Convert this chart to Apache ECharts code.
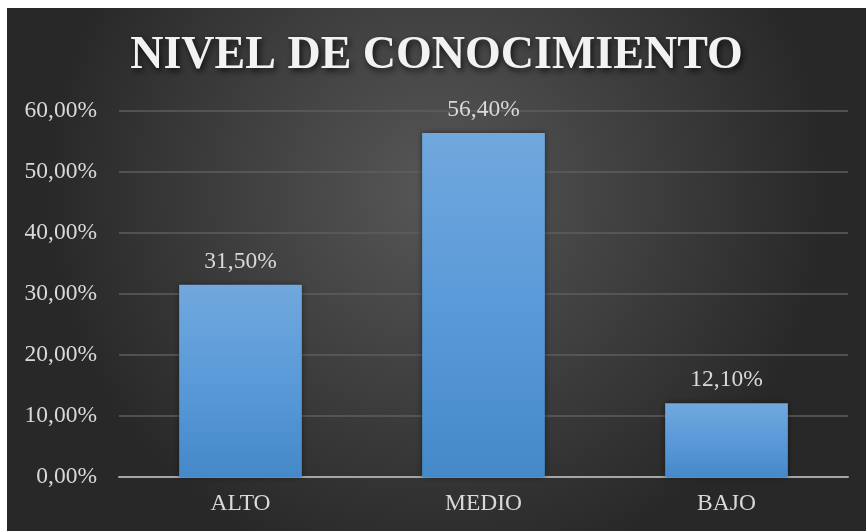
<!DOCTYPE html>
<html>
<head>
<meta charset="utf-8">
<script src="https://cdn.jsdelivr.net/npm/echarts@6/dist/echarts.min.js"></script>
<style>
  html, body { margin: 0; padding: 0; background: #ffffff; }
  #chart { position: absolute; left: 7px; top: 8px; width: 859px; height: 523px; }
</style>
</head>
<body>
<div id="chart"></div>
<script>
// chart data
const categories = ['ALTO', 'MEDIO', 'BAJO'];
const values = [31.5, 56.4, 12.1];
const yTicks = { min: 0, max: 60, interval: 10 };

const pct = v => v.toFixed(2).replace('.', ',') + '%';

const chart = echarts.init(document.getElementById('chart'));
chart.setOption({
    backgroundColor: {
        type: 'radial', x: 0.5, y: 0.35, r: 0.75,
        colorStops: [
            { offset: 0, color: '#575757' },
            { offset: 1, color: '#282828' }
        ]
    },
    animation: false,
    title: {
        text: 'NIVEL DE CONOCIMIENTO',
        left: 'center',
        top: 20,
        textStyle: {
            fontFamily: 'Liberation Serif',
            fontWeight: 'bold',
            fontSize: 46,
            color: '#f2f2f2',
            textShadowColor: 'rgba(0,0,0,0.75)',
            textShadowBlur: 6,
            textShadowOffsetX: 2,
            textShadowOffsetY: 3
        }
    },
    grid: { left: 112, right: 18, top: 103, bottom: 54 },
    xAxis: {
        type: 'category',
        data: categories,
        axisTick: { show: false },
        axisLine: { lineStyle: { color: '#a6a6a6', width: 2 } },
        axisLabel: {
            margin: 15,
            fontFamily: 'Liberation Serif',
            fontSize: 23.5,
            color: '#d9d9d9'
        }
    },
    yAxis: {
        type: 'value',
        min: yTicks.min,
        max: yTicks.max,
        interval: yTicks.interval,
        axisLine: { show: false },
        axisTick: { show: false },
        splitLine: { lineStyle: { color: '#5e5e5e', width: 1.5 } },
        axisLabel: {
            margin: 22,
            formatter: pct,
            fontFamily: 'Liberation Serif',
            fontSize: 23.5,
            color: '#d9d9d9'
        }
    },
    series: [{
        type: 'bar',
        data: values,
        barWidth: '50.5%',
        itemStyle: {
            color: {
                type: 'linear', x: 0, y: 0, x2: 0, y2: 1,
                colorStops: [
                    { offset: 0, color: '#71a8dd' },
                    { offset: 0.5, color: '#5a9ad9' },
                    { offset: 1, color: '#4589c9' }
                ]
            },
            shadowColor: 'rgba(0,0,0,0.45)',
            shadowBlur: 6
        },
        label: {
            show: true,
            position: 'top',
            distance: 11,
            formatter: p => pct(p.value),
            fontFamily: 'Liberation Serif',
            fontSize: 23.5,
            color: '#d9d9d9'
        }
    }]
});
</script>
</body>
</html>
